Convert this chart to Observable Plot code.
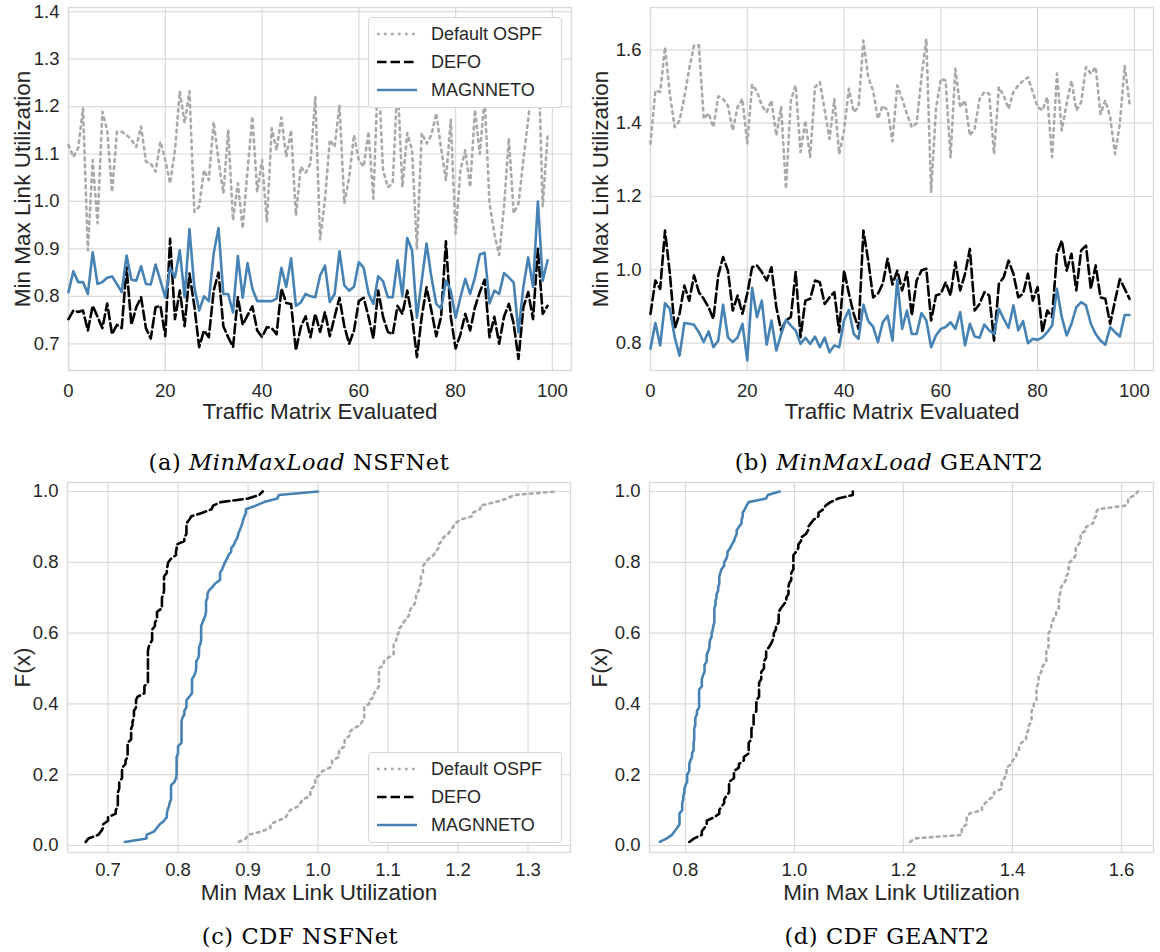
<!DOCTYPE html>
<html><head><meta charset="utf-8">
<script src="https://cdn.jsdelivr.net/npm/d3@7"></script>
<script src="https://cdn.jsdelivr.net/npm/@observablehq/plot@0.6"></script>
<style>
body{margin:0;background:#fff;}
#fig{position:relative;width:1160px;height:952px;overflow:hidden;background:#fff;}
.panel{position:absolute;}
.cap{position:absolute;font-family:"DejaVu Serif",serif;font-size:22.5px;line-height:24px;color:#000;white-space:nowrap;transform:translateX(-50%);letter-spacing:0.6px;}
.cap i{font-style:italic;}
.legend{position:absolute;background:#fff;border:1px solid #d6d6d6;border-radius:4px;font-family:"Liberation Sans",Arial,sans-serif;font-size:18px;color:#262626;box-sizing:border-box;}
.legend .row{position:absolute;left:0;height:28px;display:flex;align-items:center;}
.legend svg{margin-left:8px;margin-right:14px;}
</style></head>
<body><div id="fig"></div>
<script>
// ---- data ----
const trafficMatrix = d3.range(100);
const seriesNames = ["Default OSPF", "DEFO", "MAGNNETO"];

const nsfOspf = [1.119,1.094,1.112,1.196,0.897,1.087,0.954,1.189,1.150,1.020,
1.147,1.147,1.140,1.130,1.115,1.158,1.084,1.080,1.063,1.126,
1.087,1.038,1.108,1.232,1.165,1.232,0.978,0.989,1.066,1.045,
1.168,1.087,1.017,1.150,0.960,1.038,0.943,1.066,1.179,1.020,
1.087,0.957,1.154,1.108,1.177,1.094,1.150,0.971,1.073,1.060,
1.080,1.220,0.920,1.003,1.130,1.115,1.203,0.996,1.050,1.140,
1.087,1.073,1.147,1.006,1.280,1.066,1.030,1.038,1.253,1.030,
1.144,1.108,0.900,1.144,1.122,1.140,1.186,1.112,1.045,1.172,
0.932,1.066,1.108,1.030,1.193,1.100,1.221,0.996,0.932,0.887,
0.989,1.133,0.975,0.996,1.087,1.172,1.270,1.340,0.990,1.137];

const nsfDefo = [0.752,0.770,0.767,0.770,0.728,0.780,0.757,0.733,0.785,0.720,
0.740,0.733,0.861,0.740,0.777,0.798,0.733,0.711,0.777,0.780,
0.716,0.921,0.752,0.812,0.737,0.848,0.780,0.693,0.728,0.714,
0.812,0.850,0.737,0.714,0.693,0.798,0.740,0.760,0.779,0.728,
0.714,0.735,0.733,0.720,0.816,0.786,0.784,0.686,0.735,0.758,
0.714,0.763,0.725,0.767,0.716,0.757,0.797,0.737,0.700,0.728,
0.790,0.797,0.757,0.711,0.812,0.757,0.725,0.720,0.780,0.763,
0.812,0.757,0.672,0.757,0.819,0.770,0.716,0.757,0.916,0.757,
0.690,0.720,0.763,0.728,0.777,0.809,0.835,0.714,0.757,0.700,
0.757,0.784,0.742,0.668,0.777,0.809,0.752,0.900,0.763,0.780];

const nsfMagnneto = [0.809,0.853,0.830,0.830,0.805,0.893,0.826,0.830,0.839,0.842,
0.826,0.809,0.886,0.835,0.833,0.863,0.826,0.825,0.867,0.833,
0.798,0.860,0.840,0.897,0.798,0.942,0.820,0.770,0.800,0.790,
0.890,0.944,0.805,0.805,0.766,0.885,0.797,0.870,0.816,0.790,
0.790,0.790,0.790,0.795,0.860,0.820,0.880,0.780,0.787,0.805,
0.800,0.798,0.844,0.865,0.788,0.805,0.895,0.823,0.812,0.820,
0.872,0.860,0.806,0.784,0.842,0.832,0.798,0.798,0.876,0.800,
0.923,0.897,0.755,0.833,0.911,0.840,0.784,0.774,0.833,0.812,
0.755,0.798,0.837,0.805,0.840,0.888,0.892,0.785,0.812,0.805,
0.849,0.840,0.829,0.724,0.820,0.882,0.820,1.000,0.833,0.876];

const geantOspf = [1.344,1.489,1.485,1.607,1.480,1.389,1.407,1.471,1.548,1.612,
1.612,1.412,1.427,1.389,1.473,1.466,1.448,1.380,1.444,1.466,
1.344,1.505,1.487,1.448,1.430,1.462,1.366,1.444,1.221,1.462,
1.503,1.321,1.407,1.307,1.498,1.512,1.435,1.357,1.466,1.316,
1.380,1.494,1.430,1.444,1.625,1.525,1.489,1.412,1.448,1.435,
1.350,1.503,1.466,1.425,1.389,1.400,1.525,1.630,1.212,1.439,
1.521,1.516,1.307,1.548,1.444,1.462,1.366,1.385,1.466,1.485,
1.480,1.316,1.498,1.475,1.439,1.485,1.503,1.516,1.525,1.485,
1.445,1.435,1.471,1.307,1.535,1.380,1.453,1.516,1.435,1.457,
1.553,1.535,1.553,1.425,1.462,1.416,1.316,1.398,1.557,1.453];

const geantDefo = [0.880,0.971,0.948,1.107,0.990,0.839,0.880,0.957,0.916,0.985,
0.939,0.921,0.898,0.866,0.985,1.035,0.998,0.889,0.930,0.880,
0.935,1.007,1.012,0.994,0.971,1.007,0.898,0.835,0.862,0.871,
0.994,0.816,0.916,0.921,0.971,0.966,0.907,0.925,0.939,0.830,
0.998,0.935,0.880,0.839,1.107,1.025,0.925,0.935,0.962,1.030,
0.960,0.998,0.944,0.994,0.875,0.971,0.998,1.003,0.862,0.930,
0.935,0.966,0.930,1.021,0.944,0.989,1.057,0.889,0.907,0.939,
0.930,0.807,0.962,0.980,1.025,0.989,0.925,0.935,0.989,0.916,
0.953,0.830,0.889,0.871,1.044,1.080,0.998,1.044,0.944,1.053,
1.066,0.948,1.012,0.925,0.921,0.853,0.916,0.975,0.948,0.921];

const geantMagnneto = [0.785,0.855,0.794,0.909,0.894,0.816,0.766,0.855,0.853,0.850,
0.830,0.803,0.832,0.789,0.807,0.905,0.816,0.803,0.816,0.853,
0.753,0.951,0.871,0.916,0.796,0.862,0.780,0.825,0.864,0.848,
0.835,0.798,0.815,0.798,0.818,0.789,0.815,0.775,0.794,0.789,
0.862,0.891,0.825,0.812,0.905,0.860,0.845,0.803,0.857,0.875,
0.807,0.973,0.839,0.889,0.825,0.825,0.882,0.862,0.789,0.821,
0.839,0.844,0.857,0.839,0.885,0.794,0.853,0.818,0.815,0.851,
0.835,0.825,0.894,0.866,0.842,0.903,0.835,0.860,0.800,0.812,
0.809,0.816,0.830,0.848,0.948,0.871,0.821,0.853,0.898,0.912,
0.903,0.853,0.825,0.807,0.796,0.844,0.830,0.818,0.877,0.877];

const ticksIndex = [0, 20, 40, 60, 80, 100];
const ticksNsfUtil = [0.7, 0.8, 0.9, 1.0, 1.1, 1.2, 1.3, 1.4];
const ticksGeantUtil = [0.8, 1.0, 1.2, 1.4, 1.6];
const ticksCdfNsf = [0.7, 0.8, 0.9, 1.0, 1.1, 1.2, 1.3];
const ticksCdfGeant = [0.8, 1.0, 1.2, 1.4, 1.6];
const ticksF = [0.0, 0.2, 0.4, 0.6, 0.8, 1.0];

// ---- styles ----
const styles = [
  {stroke: "#a9a9a9", dash: "2.6 4.4"},
  {stroke: "#000000", dash: "9.5 4"},
  {stroke: "#4682b4", dash: null}
];
const LW = 2.6;
const GRID = "#dadada";

function ecdf(vals) {
  const s = d3.sort(vals);
  const n = s.length;
  return s.map((v, k) => ({x: v, y: (k + 1) / n}));
}

function makePanel(o) {
  const lines = o.series.map((rows, k) => Plot.line(rows, {
    x: "x", y: "y", stroke: styles[k].stroke, strokeWidth: LW,
    strokeDasharray: styles[k].dash ?? undefined
  }));
  return Plot.plot({
    width: o.width, height: o.height,
    marginLeft: o.ml, marginRight: o.mr, marginTop: o.mt, marginBottom: o.mb,
    style: {fontFamily: "'Liberation Sans', Arial, sans-serif", fontSize: "18.5px", color: "#262626", background: "white", overflow: "visible"},
    x: {domain: o.xDomain},
    y: {domain: o.yDomain},
    marks: [
      Plot.gridX({ticks: o.xTicks, stroke: GRID, strokeOpacity: 1, strokeWidth: 1.2}),
      Plot.gridY({ticks: o.yTicks, stroke: GRID, strokeOpacity: 1, strokeWidth: 1.2}),
      Plot.frame({stroke: GRID, strokeWidth: 1.4}),
      Plot.axisX({ticks: o.xTicks, tickSize: 0, tickPadding: o.xPad, tickFormat: o.xFmt, label: null}),
      Plot.axisY({ticks: o.yTicks, tickSize: 0, tickPadding: 9, tickFormat: o.yFmt, label: null}),
      ...lines,
      Plot.text([o.xLabel], {text: d => d, frameAnchor: "bottom", dy: o.xLabelDy, lineAnchor: "middle", textAnchor: "middle", fontSize: 22.5, fill: "#262626"}),
      Plot.text([o.yLabel], {text: d => d, frameAnchor: "left", dx: o.yLabelDx, rotate: -90, lineAnchor: "middle", textAnchor: "middle", fontSize: 22.5, fill: "#262626"})
    ]
  });
}

const toRows = vals => vals.map((v, i) => ({x: trafficMatrix[i], y: v}));
const fmt1 = d3.format(".1f");
const fmt0 = d3.format("d");

const fig = document.getElementById("fig");
function place(node, left, top) {
  const d = document.createElement("div");
  d.className = "panel";
  d.style.left = left + "px"; d.style.top = top + "px";
  d.appendChild(node);
  fig.appendChild(d);
}

place(makePanel({
  width: 580, height: 440, ml: 68, mr: 9, mt: 7, mb: 70,
  xDomain: [0, 103.95], yDomain: [0.6437, 1.4087],
  xTicks: ticksIndex, yTicks: ticksNsfUtil, xFmt: fmt0, yFmt: fmt1,
  xLabel: "Traffic Matrix Evaluated", yLabel: "Min Max Link Utilization",
  xPad: 13, xLabelDy: 41, yLabelDx: -46,
  series: [toRows(nsfOspf), toRows(nsfDefo), toRows(nsfMagnneto)]
}), 0, 0);

place(makePanel({
  width: 580, height: 440, ml: 70, mr: 7, mt: 7, mb: 70,
  xDomain: [0, 103.95], yDomain: [0.7255, 1.7154],
  xTicks: ticksIndex, yTicks: ticksGeantUtil, xFmt: fmt0, yFmt: fmt1,
  xLabel: "Traffic Matrix Evaluated", yLabel: "Min Max Link Utilization",
  xPad: 13, xLabelDy: 41, yLabelDx: -50,
  series: [toRows(geantOspf), toRows(geantDefo), toRows(geantMagnneto)]
}), 580, 0);

place(makePanel({
  width: 580, height: 440, ml: 67, mr: 10, mt: 12, mb: 58,
  xDomain: [0.6421, 1.3607], yDomain: [-0.0198, 1.0254],
  xTicks: ticksCdfNsf, yTicks: ticksF, xFmt: fmt1, yFmt: fmt1,
  xLabel: "Min Max Link Utilization", yLabel: "F(x)",
  xPad: 10, xLabelDy: 40, yLabelDx: -45,
  series: [ecdf(nsfOspf), ecdf(nsfDefo), ecdf(nsfMagnneto)]
}), 0, 470);

place(makePanel({
  width: 580, height: 440, ml: 69, mr: 7, mt: 12, mb: 58,
  xDomain: [0.734, 1.6587], yDomain: [-0.0198, 1.0254],
  xTicks: ticksCdfGeant, yTicks: ticksF, xFmt: fmt1, yFmt: fmt1,
  xLabel: "Min Max Link Utilization", yLabel: "F(x)",
  xPad: 10, xLabelDy: 40, yLabelDx: -50,
  series: [ecdf(geantOspf), ecdf(geantDefo), ecdf(geantMagnneto)]
}), 580, 470);

// captions
const captions = [
  {html: "(a) <i>MinMaxLoad</i> NSFNet", cx: 299, top: 450},
  {html: "(b) <i>MinMaxLoad</i> GEANT2", cx: 889, top: 450},
  {html: "(c) CDF NSFNet", cx: 300, top: 924},
  {html: "(d) CDF GEANT2", cx: 887, top: 924}
];
for (const c of captions) {
  const d = document.createElement("div");
  d.className = "cap";
  d.innerHTML = c.html;
  d.style.left = c.cx + "px"; d.style.top = c.top + "px";
  fig.appendChild(d);
}

// legends
function legend(left, top) {
  const box = document.createElement("div");
  box.className = "legend";
  box.style.left = left + "px"; box.style.top = top + "px";
  box.style.width = "194px"; box.style.height = "91px";
  seriesNames.forEach((name, k) => {
    const row = document.createElement("div");
    row.className = "row";
    row.style.top = (2 + k * 28) + "px";
    const dash = styles[k].dash ? ` stroke-dasharray="${styles[k].dash}"` : "";
    row.innerHTML = `<svg width="40" height="10"><line x1="0" y1="5" x2="40" y2="5" stroke="${styles[k].stroke}" stroke-width="${LW}"${dash}/></svg><span>${name}</span>`;
    box.appendChild(row);
  });
  fig.appendChild(box);
}
legend(368, 17);
legend(368, 752);
</script>
</body></html>
